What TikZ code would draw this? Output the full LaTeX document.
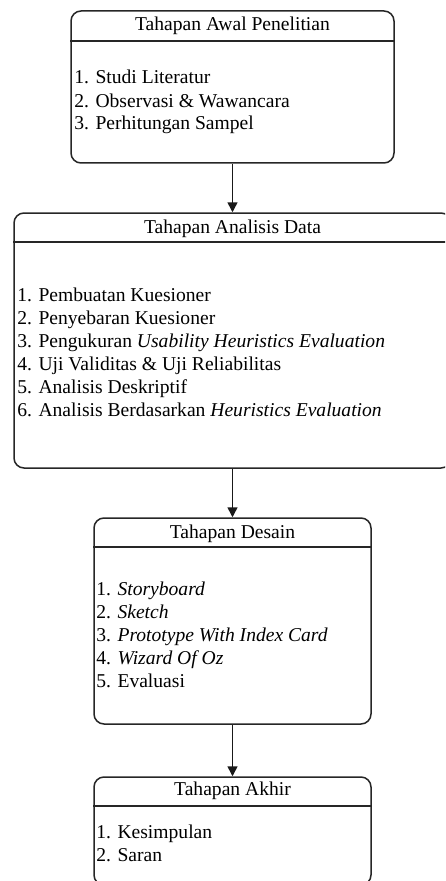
\documentclass[tikz,border=0pt]{standalone}
\usepackage{fontspec}
\setmainfont{Liberation Serif}
\usetikzlibrary{arrows.meta}
\begin{document}
\begin{tikzpicture}[
x = 0.6pt,
y = -0.6pt,
font = \fontsize{11.75}{13.8}\selectfont,
stage/.style = {rectangle, draw=black!85, line width=0.9pt, rounded corners=6pt, inner sep=0pt},
title/.style = {inner sep=0pt},
items/.style = {inner sep=0pt, align=left, anchor=base west},
next/.style = {draw=black!90, line width=0.9pt, -{Triangle[width=6pt,length=6pt]}}
]
	\useasboundingbox (0,0) rectangle (445,881);
	\clip (0,0) rectangle (445,881);
	\node[stage, minimum width=193.8pt, minimum height=91.2pt] (awal) at (232.5,87) {};
	\node[stage, minimum width=262.2pt, minimum height=153pt] (analisis) at (232.5,340.5) {};
	\node[stage, minimum width=166.2pt, minimum height=123.6pt] (desain) at (232.5,621) {};
	\node[stage, minimum width=166.2pt, minimum height=64.8pt] (akhir) at (232.5,831) {};
	\draw[draw=black!85, line width=0.9pt] (awal.west |- 0,41) -- (awal.east |- 0,41);
	\draw[draw=black!85, line width=0.9pt] (analisis.west |- 0,242) -- (analisis.east |- 0,242);
	\draw[draw=black!85, line width=0.9pt] (desain.west |- 0,547) -- (desain.east |- 0,547);
	\draw[draw=black!85, line width=0.9pt] (akhir.west |- 0,806) -- (akhir.east |- 0,806);
	\node[title] (awal-t) at (232.5,26) {Tahapan Awal Penelitian};
	\node[title] (analisis-t) at (232.5,229) {Tahapan Analisis Data};
	\node[title] (desain-t) at (232.5,534) {Tahapan Desain};
	\node[title] (akhir-t) at (232.5,791) {Tahapan Akhir};
	\node[items] (awal-l) at (74,130) {1. Studi Literatur\\2. Observasi \& Wawancara\\3. Perhitungan Sampel};
	\node[items] (analisis-l) at (17,416.5) {1. Pembuatan Kuesioner\\2. Penyebaran Kuesioner\\3. Pengukuran \textit{Usability Heuristics Evaluation}\\4. Uji Validitas \& Uji Reliabilitas\\5. Analisis Deskriptif\\6. Analisis Berdasarkan \textit{Heuristics Evaluation}};
	\node[items] (desain-l) at (96,687) {1. \textit{Storyboard}\\2. \textit{Sketch}\\3. \textit{Prototype With Index Card}\\4. \textit{Wizard Of Oz}\\5. Evaluasi};
	\node[items] (akhir-l) at (96,861) {1. Kesimpulan\\2. Saran};
	\draw[next] (awal.south) -- (analisis.north);
	\draw[next] (analisis.south) -- (desain.north);
	\draw[next] (desain.south) -- (akhir.north);
\end{tikzpicture}
\end{document}
